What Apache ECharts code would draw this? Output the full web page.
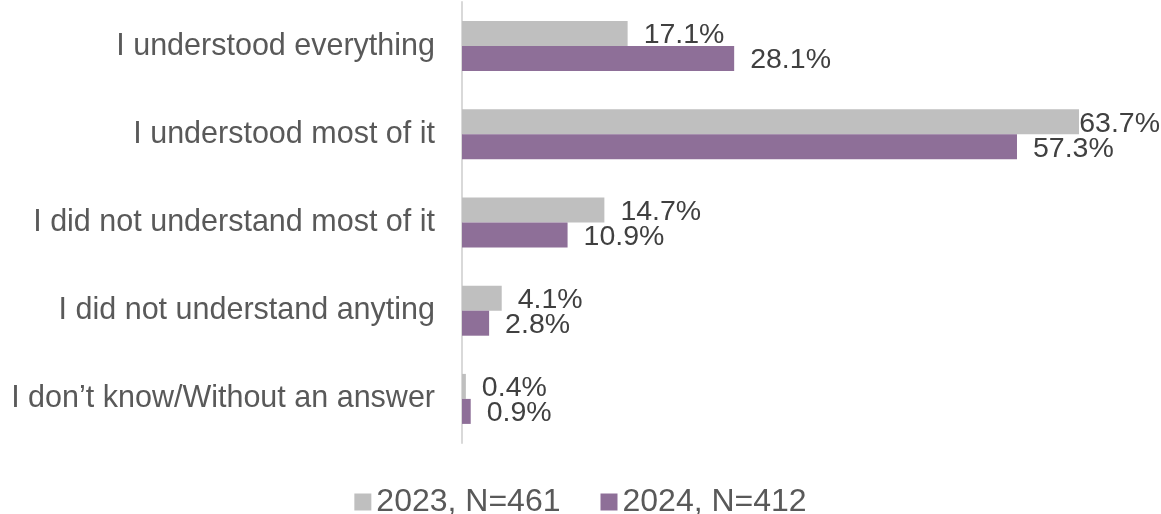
<!DOCTYPE html>
<html><head><meta charset="utf-8">
<script src="https://cdn.jsdelivr.net/npm/echarts@6/dist/echarts.min.js"></script>
<style>html,body{margin:0;padding:0;background:#fff}#c{width:1161px;height:514px}</style>
</head><body><div id="c"></div>
<script>
const categories = ["I understood everything","I understood most of it","I did not understand most of it","I did not understand anyting","I don\u2019t know/Without an answer"];
const seriesNames = ["2023, N=461","2024, N=412"];
const values2023 = [17.1, 63.7, 14.7, 4.1, 0.4];
const values2024 = [28.1, 57.3, 10.9, 2.8, 0.9];

const chart = echarts.init(document.getElementById('c'), null, {renderer:'canvas'});
const W = 1161;
const FONT = '"Liberation Sans", Arial, sans-serif';
function mk(name, data, color){
  return {
    name, type:'bar', data, barWidth:25, barGap:'0%',
    itemStyle:{color},
    label:{show:true, position:'right', distance:16, formatter: p => p.value.toFixed(1)+'%',
      color:'#404040', fontFamily:FONT, fontSize:28.5},
    labelLayout: function(params){
      const r = params.labelRect;
      return {x: Math.min(r.x, W - 1 - r.width), y: r.y + r.height/2 + 2, align:'left', verticalAlign:'middle'};
    }
  };
}
chart.setOption({
  animation:false,
  grid:{left:462, right:21, top:2, bottom:71, containLabel:false},
  xAxis:{type:'value', min:0, max:70, show:false},
  yAxis:{type:'category', data:categories, inverse:true,
    axisLine:{show:true, lineStyle:{color:'#d9d9d9', width:2}},
    axisTick:{show:false}, splitLine:{show:false},
    axisLabel:{color:'#595959', fontFamily:FONT, fontSize:30.5, margin:27}},
  legend:{top:481, left:'center', itemWidth:17, itemHeight:17, itemGap:40,
    icon:'rect', textStyle:{color:'#595959', fontFamily:FONT, fontSize:32}},
  series:[mk(seriesNames[0], values2023, '#bfbfbf'), mk(seriesNames[1], values2024, '#8e6f98')]
});
</script></body></html>
